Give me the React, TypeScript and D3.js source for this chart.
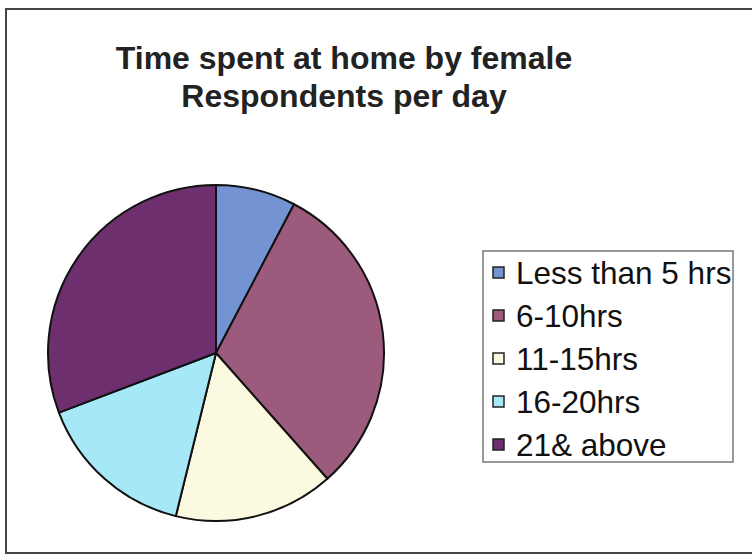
import React from 'react';
import { pie, arc } from 'd3';

const categories = ['Less than 5 hrs', '6-10hrs', '11-15hrs', '16-20hrs', '21& above'];
const values = [1, 4, 2, 2, 4];
const colors = ['#7393d2', '#9c5b7d', '#fbf9df', '#a6e8f7', '#6e2f6e'];
const titleLines = ['Time spent at home by female', 'Respondents per day'];

function App() {
  const cx = 216, cy = 353, r = 168;
  const slices = pie<number>().sort(null).value(d => d)(values);
  const arcGen = arc<any>().innerRadius(0).outerRadius(r);

  return (
    <svg width={752} height={556} style={{ position: 'absolute', left: 0, top: 0, background: '#fff' }}>
      <rect x={6} y={9} width={760} height={544} fill="none" stroke="#444" strokeWidth={2} />
      {titleLines.map((t, i) => (
        <text key={i} x={344} y={69 + i * 38} textAnchor="middle" fontFamily="Liberation Sans, Arial, sans-serif"
          fontWeight="bold" fontSize={32} fill="#222">{t}</text>
      ))}
      <g transform={`translate(${cx},${cy})`}>
        {slices.map((s, i) => (
          <path key={i} d={arcGen(s) || ''} fill={colors[i]} stroke="#111" strokeWidth={2} strokeLinejoin="round" />
        ))}
      </g>
      <rect x={483} y={251} width={250} height={211} fill="#fff" stroke="#777" strokeWidth={1.5} />
      {categories.map((c, i) => {
        const y = 273 + i * 43;
        return (
          <g key={c}>
            <rect x={493} y={y - 6} width={11} height={11} fill={colors[i]} stroke="#222" strokeWidth={1.5} />
            <text x={516} y={y + 11} fontFamily="Liberation Sans, Arial, sans-serif" fontSize={31.5} fill="#111">{c}</text>
          </g>
        );
      })}
    </svg>
  );
}

export default App;
